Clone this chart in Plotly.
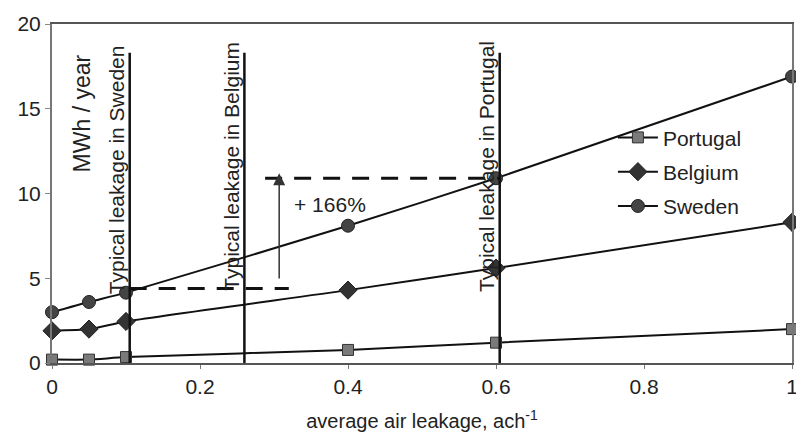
import plotly.graph_objects as go

# ---- data ----
leakage = [0, 0.05, 0.1, 0.4, 0.6, 1.0]
portugal = [0.2, 0.2, 0.35, 0.77, 1.2, 2.0]
belgium = [1.9, 2.0, 2.45, 4.3, 5.6, 8.3]
sweden = [3.0, 3.6, 4.15, 8.1, 10.9, 16.9]

typical_names = ["Typical leakage in Sweden", "Typical leakage in Belgium", "Typical leakage in Portugal"]
typical_x = [0.105, 0.26, 0.605]
typical_top = 18.3
typical_text_top = [18.85, 19.1, 19.1]

low_dash_x = [0.105, 0.32]
low_dash_y = 4.4
high_dash_x = [0.288, 0.605]
high_dash_y = 10.9
arrow_x = 0.307
arrow_y = [4.9, 11.2]
increase_text = "+ 166%"

x_ticks = [0, 0.2, 0.4, 0.6, 0.8, 1]
x_tick_labels = ["0", "0.2", "0.4", "0.6", "0.8", "1"]
y_ticks = [0, 5, 10, 15, 20]

FONT = "Liberation Sans, Arial, sans-serif"

fig = go.Figure()

series = [
    ("Portugal", portugal, dict(symbol="square", size=11, color="#7a7a7a", line=dict(color="#333", width=1))),
    ("Belgium", belgium, dict(symbol="diamond", size=14, color="#333", line=dict(color="#222", width=1))),
    ("Sweden", sweden, dict(symbol="circle", size=13, color="#444", line=dict(color="#222", width=1))),
]
for i, (name, vals, mk) in enumerate(series):
    fig.add_trace(go.Scatter(
        x=leakage, y=vals, name=name, mode="lines+markers",
        line=dict(color="#111", width=2, shape="spline", smoothing=0.6),
        marker=mk, cliponaxis=False, legendgroup=str(i),
    ))

# vertical "typical" lines
for xv in typical_x:
    fig.add_trace(go.Scatter(x=[xv, xv], y=[0, typical_top], mode="lines",
                             line=dict(color="#111", width=2.5), showlegend=False, hoverinfo="skip"))

# dashed lines
fig.add_trace(go.Scatter(x=low_dash_x, y=[low_dash_y, low_dash_y], mode="lines",
                         line=dict(color="#111", width=3, dash="17px,12px"), showlegend=False, hoverinfo="skip"))
fig.add_trace(go.Scatter(x=high_dash_x, y=[high_dash_y, high_dash_y], mode="lines",
                         line=dict(color="#111", width=3, dash="17px,12px"), showlegend=False, hoverinfo="skip"))

annotations = []
for name, xv, yt in zip(typical_names, typical_x, typical_text_top):
    annotations.append(dict(x=xv, y=yt, xref="x", yref="y", text=name, textangle=-90,
                            xanchor="right", yanchor="top", showarrow=False, xshift=1,
                            font=dict(size=21, color="#222", family=FONT)))
annotations.append(dict(x=0.04, y=18.3, xref="x", yref="y", text="MWh / year", textangle=-90,
                        xanchor="center", yanchor="top", showarrow=False,
                        font=dict(size=23, color="#222", family=FONT)))
annotations.append(dict(x=0.376, y=9.35, xref="x", yref="y", text=increase_text,
                        xanchor="center", yanchor="middle", showarrow=False,
                        font=dict(size=21, color="#222", family=FONT)))
annotations.append(dict(x=arrow_x, y=arrow_y[1], ax=arrow_x, ay=arrow_y[0], xref="x", yref="y",
                        axref="x", ayref="y", text="", showarrow=True, arrowhead=2, arrowsize=1.6,
                        arrowwidth=1.5, arrowcolor="#333", standoff=0))

fig.update_layout(
    width=796, height=436,
    margin=dict(l=52, r=4, t=24, b=73),
    paper_bgcolor="white", plot_bgcolor="white",
    font=dict(family=FONT, size=21, color="#222"),
    annotations=annotations,
    legend=dict(x=0.758, y=0.725, xanchor="left", yanchor="top", bgcolor="rgba(0,0,0,0)",
                font=dict(size=21, family=FONT, color="#222"), tracegroupgap=4, itemwidth=40),
    xaxis=dict(range=[0, 1], tickvals=x_ticks, ticktext=x_tick_labels, showgrid=False, zeroline=False,
               showline=True, linecolor="#555", linewidth=1.5, mirror=True, ticks="outside",
               ticklen=4, tickcolor="#777", tickfont=dict(size=21), automargin=False,
               ticklabeloverflow="allow",
               title=dict(text="average air leakage, ach<sup>-1</sup>", font=dict(size=20), standoff=17)),
    yaxis=dict(range=[0, 20], tickvals=y_ticks, showgrid=False, zeroline=False,
               showline=True, linecolor="#777", linewidth=2, mirror=True, ticks="outside",
               ticklen=5, tickcolor="#888", tickfont=dict(size=21), automargin=False),
)

fig.write_html("out.html", config={"displayModeBar": False},
               post_script="document.body.style.margin='0';document.body.style.overflow='hidden';")
